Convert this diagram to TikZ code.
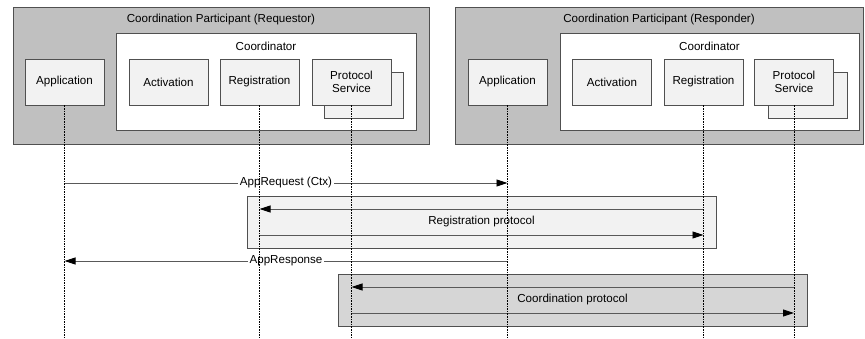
\documentclass[tikz,border=0pt]{standalone}
\usepackage{fontspec}
\setmainfont{Liberation Sans}
\usetikzlibrary{arrows.meta}
\definecolor{outerfill}{HTML}{C0C0C0}
\definecolor{boxfill}{HTML}{F2F2F2}
\definecolor{coordfill}{HTML}{D6D6D6}
\definecolor{edge}{HTML}{505050}
\tikzset{
  txt/.style={font=\fontsize{11.6}{12.8}\selectfont, inner sep=0pt},
  outerbox/.style={draw=edge, line width=0.9pt, fill=outerfill, inner sep=0pt},
  coordbox/.style={draw=edge, line width=0.9pt, fill=white, inner sep=0pt},
  compbox/.style={draw=edge, line width=0.9pt, fill=boxfill, minimum width=79pt, minimum height=46pt, inner sep=0pt, align=center, font=\fontsize{11.6}{12.8}\selectfont},
  protbox/.style={draw=edge, line width=0.9pt, inner sep=0pt},
  msg/.style={draw=black!65, line width=0.9pt, -{Triangle[length=11pt,width=7pt,fill=black,color=black]}},
  msglabel/.style={fill=white, inner sep=1.5pt, font=\fontsize{11.6}{12.8}\selectfont},
  lifeline/.style={draw=black, line width=0.8pt, dash pattern=on 1.6pt off 1pt}
}
\begin{document}
\begin{tikzpicture}[x=1pt,y=-1pt]
\useasboundingbox (0,0) rectangle (865,339);
% ---------- Left participant ----------
\node[outerbox, minimum width=416pt, minimum height=137pt] (outerL) at (221,75.5) {};
\node[txt] (titleL) at (221,20) {Coordination Participant (Requestor)};
\node[coordbox, minimum width=300pt, minimum height=97pt] (coordL) at (266,81.5) {};
\node[txt] (coordtL) at (266,46) {Coordinator};
\node[compbox] (appL) at (64.5,82) {Application};
\node[compbox] (actL) at (168.5,82) {Activation};
\node[compbox] (regL) at (259.5,82) {Registration};
\node[compbox] (psbL) at (364,95) {Protocol\\Service};
\node[compbox] (psL) at (351.5,82) {Protocol\\Service};
% ---------- Right participant ----------
\node[outerbox, minimum width=408pt, minimum height=137pt] (outerR) at (659,75.5) {};
\node[txt] (titleR) at (659,20) {Coordination Participant (Responder)};
\node[coordbox, minimum width=299pt, minimum height=97pt] (coordR) at (709.5,81.5) {};
\node[txt] (coordtR) at (709.5,46) {Coordinator};
\node[compbox] (appR) at (507.5,82) {Application};
\node[compbox] (actR) at (612,82) {Activation};
\node[compbox] (regR) at (703.5,82) {Registration};
\node[compbox] (psbR) at (807.5,95) {Protocol\\Service};
\node[compbox] (psR) at (794,82) {Protocol\\Service};
% ---------- y levels ----------
\coordinate (yreq) at (0,183);
\coordinate (yreg1) at (0,209);
\coordinate (yreg2) at (0,235);
\coordinate (yresp) at (0,261);
\coordinate (ycoo1) at (0,287);
\coordinate (ycoo2) at (0,313);
\coordinate (ybot) at (0,339);
% ---------- protocol boxes ----------
\node[protbox, fill=boxfill, minimum width=469pt, minimum height=52pt] (regproto) at (481.5,222) {};
\node[protbox, fill=coordfill, minimum width=469pt, minimum height=52pt] (cooproto) at (572.5,300) {};
% ---------- messages ----------
\draw[msg] (appL.south |- yreq) -- node[msglabel] (lreq) {AppRequest (Ctx)} (appR.south |- yreq);
\draw[msg] (regR.south |- yreg1) -- (regL.south |- yreg1);
\node[txt] (lreg) at (481.5,222) {Registration protocol};
\draw[msg] (regL.south |- yreg2) -- (regR.south |- yreg2);
\draw[msg] (appR.south |- yresp) -- node[msglabel] (lresp) {AppResponse} (appL.south |- yresp);
\draw[msg] (psR.south |- ycoo1) -- (psL.south |- ycoo1);
\node[txt] (lcoo) at (572.5,300) {Coordination protocol};
\draw[msg] (psL.south |- ycoo2) -- (psR.south |- ycoo2);
% ---------- lifelines ----------
\foreach \n in {appL,regL,psL,appR,regR,psR}
  \draw[lifeline] (\n.south) -- (\n.south |- ybot);
\end{tikzpicture}
\end{document}
